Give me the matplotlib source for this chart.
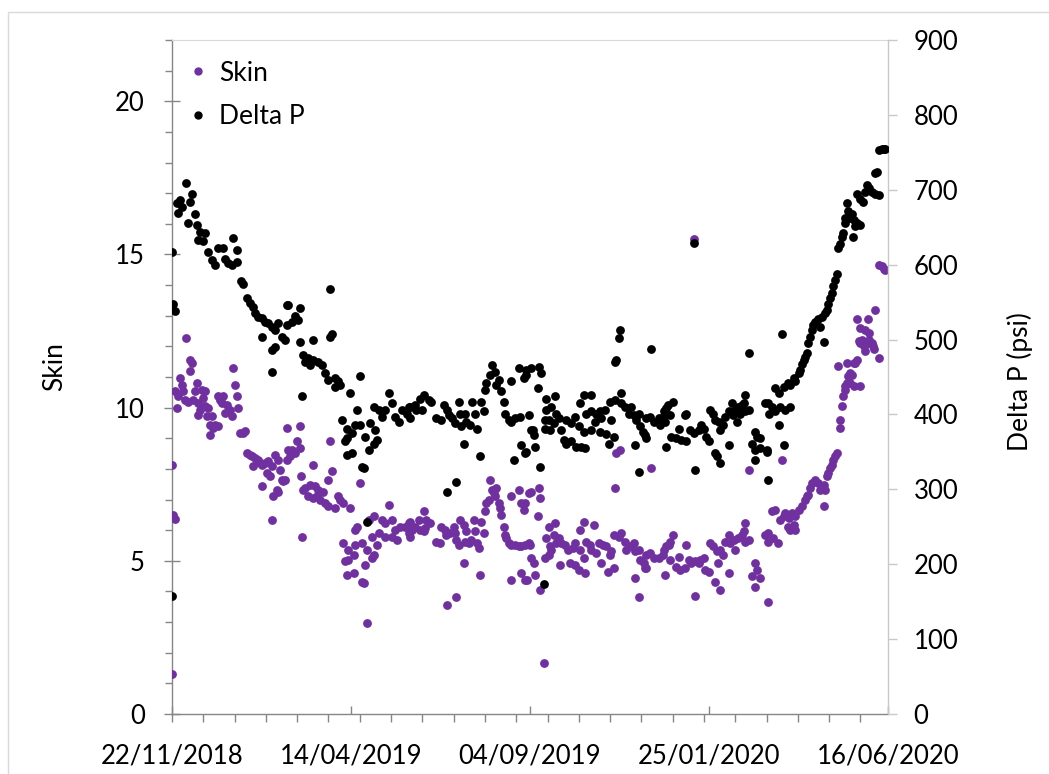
# %%
# Skin factor and pressure drop over time, scatter on twin y axes

# %%
import numpy as np
import matplotlib.pyplot as plt
import matplotlib.dates as mdates
from matplotlib.lines import Line2D
from matplotlib.patches import Rectangle
from matplotlib.ticker import FixedLocator, MultipleLocator

plt.rcParams['font.family'] = ['Lato', 'DejaVu Sans']

# %%
start = np.datetime64('2018-11-22')
end = np.datetime64('2020-06-16')

# days after start / skin value
skin_day = [0, 0, 1, 2, 2, 4, 5, 6, 8, 9, 10, 11, 13, 14, 14, 16, 17, 18, 20, 21, 21, 22, 24, 25, 26, 26, 28, 29,
            30, 30, 32, 33, 34, 37, 37, 38, 40, 41, 42, 44, 46, 48, 49, 50, 52, 53, 54, 57, 58, 60, 62, 64, 65,
            66, 69, 70, 72, 72, 74, 76, 77, 78, 80, 80, 81, 82, 84, 85, 85, 86, 88, 89, 90, 92, 92, 93, 94, 96,
            98, 100, 102, 102, 103, 104, 105, 106, 109, 110, 113, 113, 114, 116, 117, 118, 121, 122, 125, 125,
            126, 128, 130, 133, 134, 137, 137, 138, 140, 141, 141, 142, 145, 145, 146, 146, 148, 150, 152, 152,
            153, 154, 156, 156, 157, 160, 160, 161, 161, 164, 165, 168, 170, 170, 173, 176, 176, 178, 180, 182,
            186, 189, 189, 190, 190, 192, 194, 197, 198, 201, 201, 202, 203, 206, 211, 214, 215, 218, 219, 220,
            222, 225, 226, 227, 227, 229, 230, 233, 233, 234, 235, 237, 239, 241, 242, 244, 245, 246, 247, 249,
            250, 251, 253, 254, 256, 257, 258, 259, 261, 262, 263, 265, 266, 267, 269, 271, 271, 271, 274, 277,
            277, 279, 279, 279, 281, 282, 282, 282, 284, 285, 285, 286, 287, 287, 289, 290, 292, 293, 294, 294,
            297, 298, 299, 301, 301, 302, 303, 305, 306, 307, 309, 310, 311, 314, 316, 318, 320, 322, 322, 325,
            326, 326, 329, 329, 330, 331, 334, 335, 337, 339, 341, 343, 344, 347, 348, 350, 351, 353, 353, 354,
            355, 357, 358, 359, 362, 363, 367, 369, 370, 370, 373, 373, 374, 377, 378, 379, 379, 382, 383, 385,
            389, 392, 393, 394, 395, 397, 398, 398, 400, 403, 405, 406, 410, 411, 413, 415, 417, 418, 418, 421,
            422, 425, 426, 429, 430, 432, 434, 435, 436, 438, 438, 440, 442, 445, 445, 446, 449, 450, 452, 455,
            457, 458, 458, 461, 461, 463, 466, 466, 467, 470, 474, 476, 476, 476, 479, 480, 482, 484, 486, 487,
            489, 490, 492, 493, 494, 495, 497, 498, 498, 501, 503, 506, 507, 508, 510, 511, 514, 516, 518, 519,
            521, 521, 522, 523, 524, 526, 527, 528, 530, 531, 532, 534, 534, 535, 536, 538, 538, 539, 539, 540,
            542, 542, 543, 545, 545, 546, 547, 547, 549, 550, 550, 550, 551, 553, 554, 554, 556, 556, 557, 557,
            559, 560, 561, 562, 565, 565, 567, 569, 570]
skin = [8.14, 1.3, 6.5, 6.36, 10.53, 9.99, 10.37, 10.97, 10.75, 10.53, 10.26, 12.28, 10.2, 11.57, 11.19, 11.46,
        10.26, 10.53, 10.8, 10.15, 9.77, 9.93, 10.59, 10.32, 10.53, 10.04, 9.72, 9.99, 9.44, 9.12, 9.72, 9.34,
        9.44, 9.39, 10.37, 10.26, 10.15, 10.37, 9.83, 10.1, 9.93, 9.72, 11.3, 10.75, 10.37, 9.99, 9.17, 9.17,
        9.23, 8.52, 8.46, 8.41, 8.08, 8.36, 8.3, 8.19, 8.14, 7.43, 8.19, 7.87, 8.25, 7.76, 8.08, 6.32, 7.1, 8.46,
        7.32, 8.3, 7.26, 7.97, 7.65, 7.59, 7.65, 9.34, 8.3, 8.63, 8.41, 8.63, 8.52, 8.9, 9.39, 8.68, 7.76, 5.79,
        7.32, 7.38, 7.1, 7.48, 8.14, 7.05, 7.43, 7.1, 7.32, 6.99, 7.26, 6.89, 7.65, 6.78, 8.9, 7.92, 6.72, 7.1,
        6.99, 6.89, 5.58, 4.98, 4.54, 5.36, 5.03, 6.72, 5.2, 4.6, 6.01, 5.52, 6.12, 7.54, 5.58, 4.32, 4.27, 4.87,
        5.36, 2.96, 6.34, 5.79, 5.09, 6.45, 5.2, 5.52, 5.9, 6.34, 6.23, 5.79, 6.83, 6.34, 5.79, 6.01, 5.69, 6.12,
        6.12, 6.23, 5.9, 6.28, 5.79, 6.01, 6.12, 6.34, 6.01, 6.61, 5.96, 6.07, 6.34, 6.23, 5.63, 5.58, 6.12, 6.01,
        5.85, 3.56, 5.9, 6.12, 5.9, 5.69, 3.83, 5.52, 6.34, 6.18, 4.92, 5.63, 5.96, 5.58, 5.69, 6.34, 5.96, 5.58,
        5.41, 4.54, 6.28, 5.9, 6.61, 6.88, 6.99, 7.65, 7.32, 7.21, 7.1, 7.37, 6.88, 6.72, 6.5, 6.12, 5.85, 5.74,
        5.58, 5.52, 7.1, 4.38, 5.52, 5.47, 7.32, 5.47, 6.88, 4.6, 6.67, 5.52, 4.38, 6.88, 4.38, 7.21, 5.58, 5.52,
        7.26, 5.09, 4.92, 4.54, 6.45, 7.37, 7.05, 4.05, 1.66, 5.09, 5.74, 6.12, 5.2, 5.47, 5.36, 5.85, 6.23, 5.58,
        5.74, 4.87, 5.58, 5.52, 5.36, 4.92, 5.41, 5.58, 4.87, 4.71, 6.01, 5.36, 6.28, 5.09, 4.6, 5.63, 5.52, 5.36,
        6.18, 5.25, 5.58, 4.92, 5.52, 5.47, 4.65, 5.2, 5.31, 4.76, 5.85, 7.38, 8.52, 5.79, 8.63, 5.9, 5.63, 5.36,
        5.47, 5.58, 5.31, 4.43, 5.36, 3.83, 5.03, 4.92, 4.76, 5.2, 4.76, 5.25, 8.03, 5.09, 5.09, 5.2, 5.36, 4.54,
        5.47, 5.52, 5.63, 5.03, 5.85, 4.81, 5.14, 4.71, 4.76, 5.52, 5.03, 4.92, 15.5, 4.98, 3.86, 4.92, 5.03,
        5.09, 4.71, 4.65, 5.58, 5.47, 4.32, 5.31, 4.92, 5.36, 4.05, 5.2, 5.63, 5.85, 4.6, 5.58, 5.69, 5.36, 5.74,
        5.85, 5.96, 6.23, 5.63, 5.69, 7.95, 4.49, 4.92, 4.16, 4.71, 4.43, 5.85, 5.63, 3.67, 5.9, 6.61, 5.74,
        6.67, 5.58, 6.34, 8.3, 6.45, 6.56, 6.12, 6.39, 6.01, 6.56, 6.18, 6.45, 6.01, 6.67, 6.78, 6.99, 7.1, 7.16,
        7.38, 7.54, 7.65, 7.54, 7.32, 7.38, 6.78, 7.48, 7.32, 7.76, 7.87, 8.03, 8.14, 8.3, 8.41, 8.52, 11.35,
        9.34, 9.61, 10.04, 10.37, 10.59, 10.7, 10.81, 11.46, 11.02, 11.13, 10.81, 11.08, 11.46, 10.7, 11.46,
        11.57, 12.88, 12.17, 12.12, 10.7, 12.6, 12.22, 12.0, 11.84, 12.55, 12.12, 12.88, 12.22, 12.44, 12.12,
        12.0, 11.9, 13.2, 11.62, 14.67, 14.62, 14.51, 14.49]

# days after start / pressure drop (psi)
dp_day = [0, 0, 1, 2, 4, 5, 6, 8, 11, 13, 14, 16, 18, 20, 21, 22, 25, 26, 29, 32, 34, 37, 41, 42, 45, 48, 49,
          52, 52, 55, 57, 60, 62, 65, 66, 69, 72, 72, 74, 77, 80, 80, 80, 82, 82, 85, 88, 90, 92, 92, 93, 96,
          98, 101, 102, 102, 104, 105, 106, 109, 110, 113, 113, 117, 120, 122, 125, 126, 126, 128, 130, 130,
          133, 134, 136, 138, 140, 140, 140, 142, 144, 144, 146, 148, 150, 150, 152, 153, 154, 156, 157, 158,
          161, 161, 162, 164, 165, 168, 170, 173, 176, 178, 181, 184, 188, 189, 190, 190, 194, 195, 198, 200,
          201, 205, 207, 211, 215, 217, 220, 220, 221, 224, 226, 227, 229, 230, 231, 233, 234, 235, 238, 240,
          242, 244, 246, 247, 249, 250, 251, 254, 256, 258, 259, 261, 263, 265, 266, 269, 271, 271, 273, 274,
          277, 278, 279, 281, 282, 283, 283, 283, 285, 287, 287, 288, 289, 290, 292, 293, 294, 295, 297, 298,
          298, 299, 299, 301, 302, 303, 305, 306, 307, 309, 311, 313, 315, 315, 319, 319, 322, 323, 325, 326,
          327, 329, 329, 330, 331, 335, 335, 335, 338, 339, 342, 342, 343, 346, 347, 349, 350, 351, 353, 354,
          354, 355, 357, 358, 359, 359, 362, 365, 367, 369, 370, 371, 373, 373, 374, 376, 378, 379, 379, 382,
          383, 385, 389, 390, 392, 393, 394, 395, 395, 396, 398, 399, 400, 403, 405, 407, 410, 411, 411, 414,
          417, 417, 418, 421, 423, 425, 427, 429, 430, 432, 434, 434, 435, 437, 438, 438, 440, 442, 445, 445,
          447, 448, 450, 451, 452, 454, 455, 457, 458, 458, 461, 461, 463, 466, 466, 466, 467, 470, 470, 474,
          475, 475, 476, 476, 477, 479, 482, 482, 485, 485, 486, 487, 489, 489, 490, 492, 494, 494, 497, 498,
          501, 502, 503, 505, 506, 507, 508, 510, 511, 512, 514, 516, 518, 519, 521, 522, 523, 524, 526, 527,
          528, 530, 531, 532, 534, 535, 536, 538, 538, 539, 540, 542, 543, 544, 545, 546, 547, 547, 550, 550,
          552, 554, 555, 557, 559, 562, 562, 563, 565, 565, 567, 569, 570]
delta_p = [617, 157, 548, 538, 682, 669, 687, 677, 709, 655, 684, 694, 668, 653, 633, 644, 631, 642, 617, 606,
           600, 622, 622, 608, 602, 600, 635, 620, 603, 578, 574, 555, 549, 544, 535, 530, 529, 504, 523, 522,
           517, 486, 457, 513, 490, 522, 503, 499, 546, 519, 546, 524, 531, 526, 542, 497, 424, 479, 470, 475,
           466, 473, 499, 470, 466, 455, 446, 504, 568, 508, 448, 437, 444, 439, 393, 364, 381, 368, 346, 429,
           375, 348, 386, 406, 386, 451, 330, 328, 370, 257, 352, 388, 410, 361, 379, 366, 406, 397, 406, 428,
           415, 397, 390, 406, 401, 410, 410, 395, 413, 406, 421, 406, 426, 419, 417, 395, 393, 413, 406, 296,
           399, 395, 388, 310, 417, 401, 384, 361, 401, 390, 386, 417, 401, 380, 344, 417, 404, 433, 442, 453,
           466, 457, 439, 446, 431, 417, 401, 393, 390, 444, 339, 395, 462, 397, 359, 448, 348, 459, 453, 350,
           399, 462, 379, 379, 372, 357, 435, 464, 330, 455, 174, 381, 393, 421, 406, 393, 379, 410, 388, 424,
           401, 395, 379, 366, 393, 361, 388, 364, 397, 357, 384, 415, 357, 426, 377, 355, 401, 404, 426, 379,
           390, 401, 404, 377, 395, 406, 374, 361, 417, 393, 370, 419, 470, 473, 502, 513, 428, 415, 410, 401,
           410, 399, 359, 393, 401, 323, 384, 377, 372, 395, 368, 397, 488, 390, 395, 386, 397, 404, 390, 408,
           356, 413, 399, 370, 417, 368, 381, 366, 399, 401, 364, 379, 375, 629, 326, 379, 386, 381, 370, 364,
           406, 401, 393, 348, 344, 390, 379, 335, 386, 397, 404, 359, 415, 399, 406, 390, 410, 401, 413, 415,
           426, 404, 406, 482, 361, 377, 352, 339, 370, 368, 355, 415, 350, 352, 313, 415, 401, 410, 404, 435,
           386, 428, 410, 508, 359, 437, 406, 442, 410, 439, 448, 444, 455, 459, 468, 473, 477, 482, 495, 504,
           513, 519, 524, 528, 517, 530, 497, 535, 539, 548, 555, 562, 571, 579, 588, 622, 628, 637, 642, 655,
           662, 682, 671, 662, 668, 637, 660, 651, 655, 695, 653, 688, 684, 697, 706, 702, 697, 695, 722, 724,
           693, 753, 755, 754, 755]

skin_color = '#7030A0'
dp_color = '#000000'

# %%
fig = plt.figure(figsize=(10.49, 7.74), dpi=100)
# chart frame, only its top and left edges fall inside the image
fig.patches.append(Rectangle((8 / 1049, -0.1), 1.2, 1.1 - 12 / 774,
                             transform=fig.transFigure, fill=False, edgecolor='#D9D9D9', lw=1))

ax = fig.add_axes([172 / 1049, 1 - 714 / 774, (888 - 172) / 1049, (714 - 40) / 774])
ax2 = ax.twinx()

skin_dates = start + np.array(skin_day, dtype='timedelta64[D]')
dp_dates = start + np.array(dp_day, dtype='timedelta64[D]')

ax.scatter(skin_dates, skin, s=40, color=skin_color, linewidths=0, zorder=3)
ax2.scatter(dp_dates, delta_p, s=40, color=dp_color, linewidths=0, zorder=3)

ax.set_xlim(start, end)
ax.set_ylim(0, 22)
ax2.set_ylim(0, 900)

# x axis: labels every 143 days, small ticks every 25 days
major_x = [mdates.date2num(start + np.timedelta64(143 * k, 'D')) for k in range(5)]
minor_x = [mdates.date2num(start + np.timedelta64(25 * k, 'D')) for k in range(23)]
ax.xaxis.set_major_locator(FixedLocator(major_x))
ax.xaxis.set_minor_locator(FixedLocator(minor_x))
ax.xaxis.remove_overlapping_locs = False
ax.xaxis.set_major_formatter(mdates.DateFormatter('%d/%m/%Y'))

ax.yaxis.set_major_locator(FixedLocator([0, 5, 10, 15, 20]))
ax.yaxis.set_minor_locator(MultipleLocator(1))
ax2.yaxis.set_major_locator(MultipleLocator(100))

axis_grey = '#868686'
light_grey = '#C8C8C8'
for side in ['left', 'bottom']:
    ax.spines[side].set_color(axis_grey)
    ax.spines[side].set_linewidth(1.0)
ax.spines['top'].set_color('#D9D9D9')
ax.spines['right'].set_visible(False)
for side in ['left', 'bottom', 'top']:
    ax2.spines[side].set_visible(False)
ax2.spines['right'].set_color(light_grey)
ax2.spines['right'].set_linewidth(1.0)

ax.tick_params(axis='y', which='major', direction='inout', length=11, width=1, color=axis_grey,
               labelsize=18.5, pad=14)
ax.tick_params(axis='y', which='minor', direction='out', length=5, width=1, color=axis_grey)
ax.tick_params(axis='x', which='major', direction='in', length=6, width=1, color=axis_grey,
               labelsize=18.5, pad=21)
ax.tick_params(axis='x', which='minor', direction='out', length=6, width=1, color=axis_grey)
ax2.tick_params(axis='y', which='major', direction='out', length=6.5, width=1, color=light_grey,
                labelsize=18.5, pad=12)

ax.set_ylabel('Skin', fontsize=19)
ax.yaxis.set_label_coords(-0.147, 0.515)
ax2.set_ylabel('Delta P (psi)', fontsize=19)
ax2.yaxis.set_label_coords(1.166, 0.493)

handles = [Line2D([], [], marker='o', ls='none', ms=5, color=skin_color),
           Line2D([], [], marker='o', ls='none', ms=5, color=dp_color)]
ax2.legend(handles, ['Skin', 'Delta P'], loc='upper left', bbox_to_anchor=(0.01, 0.985),
           frameon=False, fontsize=19, handlelength=0.6, handletextpad=0.5, labelspacing=0.7,
           borderaxespad=0)

fig.savefig('out.png', dpi=100)
